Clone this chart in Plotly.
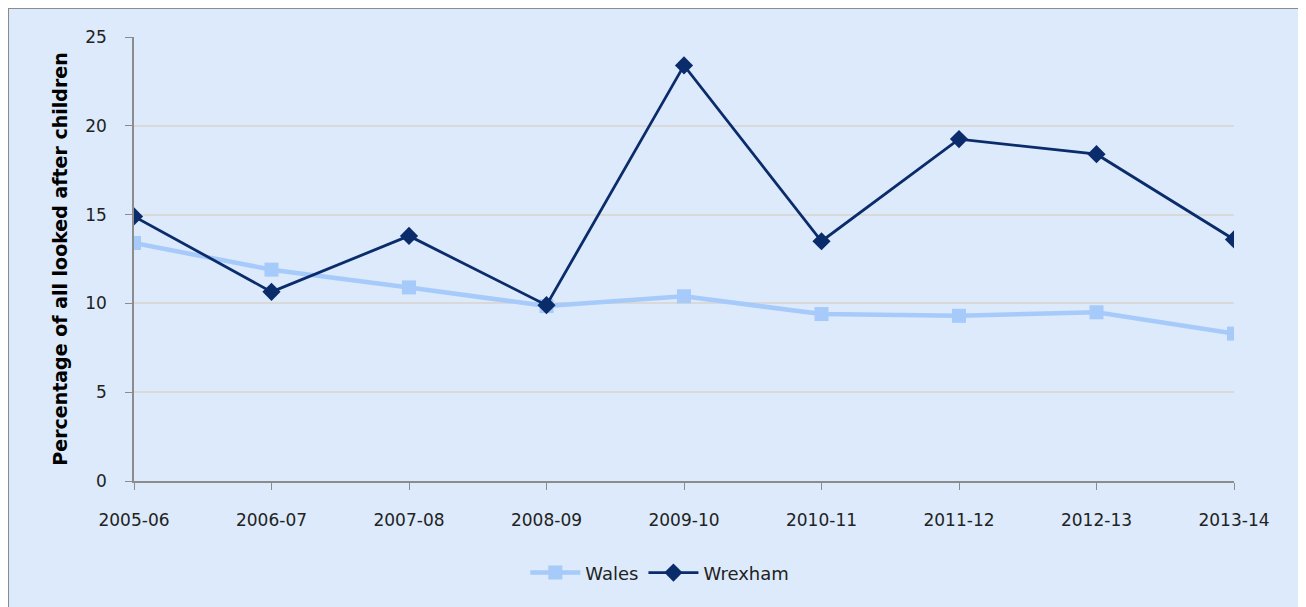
import plotly.graph_objects as go

years = ["2005-06", "2006-07", "2007-08", "2008-09", "2009-10",
         "2010-11", "2011-12", "2012-13", "2013-14"]
wales = [13.4, 11.9, 10.9, 9.85, 10.4, 9.4, 9.3, 9.5, 8.3]
wrexham = [14.9, 10.65, 13.8, 9.9, 23.4, 13.5, 19.25, 18.4, 13.6]
y_ticks = [0, 5, 10, 15, 20, 25]

fig = go.Figure()
fig.add_trace(go.Scatter(
    x=years, y=wales, name="Wales", mode="lines+markers",
    line=dict(color="#A6CAFA", width=4.5),
    marker=dict(symbol="square", size=14, color="#A6CAFA"),
))
fig.add_trace(go.Scatter(
    x=years, y=wrexham, name="Wrexham", mode="lines+markers",
    line=dict(color="#0B2C6B", width=2.8),
    marker=dict(symbol="diamond", size=14, color="#0B2C6B"),
))

fig.add_shape(type="rect", xref="paper", yref="paper",
              x0=-0.1145, x1=1.1, y0=-0.33, y1=1.0653,
              fillcolor="#DCEAFB", line=dict(color="#8C8C8C", width=2),
              layer="below")

fig.update_layout(
    width=1298, height=599,
    margin=dict(l=126, r=72, t=29, b=126),
    paper_bgcolor="white", plot_bgcolor="white",
    font=dict(family="DejaVu Sans", size=17, color="#222222"),
    showlegend=True,
    legend=dict(orientation="h", x=0.478, y=-0.207, xanchor="center", yanchor="middle",
                bgcolor="rgba(0,0,0,0)", font=dict(size=18, family="DejaVu Sans"),
                itemwidth=50),
    xaxis=dict(
        type="category", range=[0, 8], showgrid=False,
        showline=True, linecolor="#8C8C8C", linewidth=1.5,
        ticks="outside", ticklen=7, tickcolor="#8C8C8C",
        tickfont=dict(size=17), fixedrange=True, ticklabelstandoff=16,
    ),
    yaxis=dict(
        range=[0, 25], tickvals=y_ticks, showgrid=True, gridcolor="#D9D9D9",
        gridwidth=1.5, showline=True, linecolor="#8C8C8C", linewidth=1.5,
        ticks="outside", ticklen=7, tickcolor="#8C8C8C", zeroline=False,
        tickfont=dict(size=17), ticklabelstandoff=15,
        title=dict(text="<b>Percentage of all looked after children</b>",
                   font=dict(size=19, family="DejaVu Sans", color="#000000"),
                   standoff=13),
    ),
)

fig.write_html("out.html")
